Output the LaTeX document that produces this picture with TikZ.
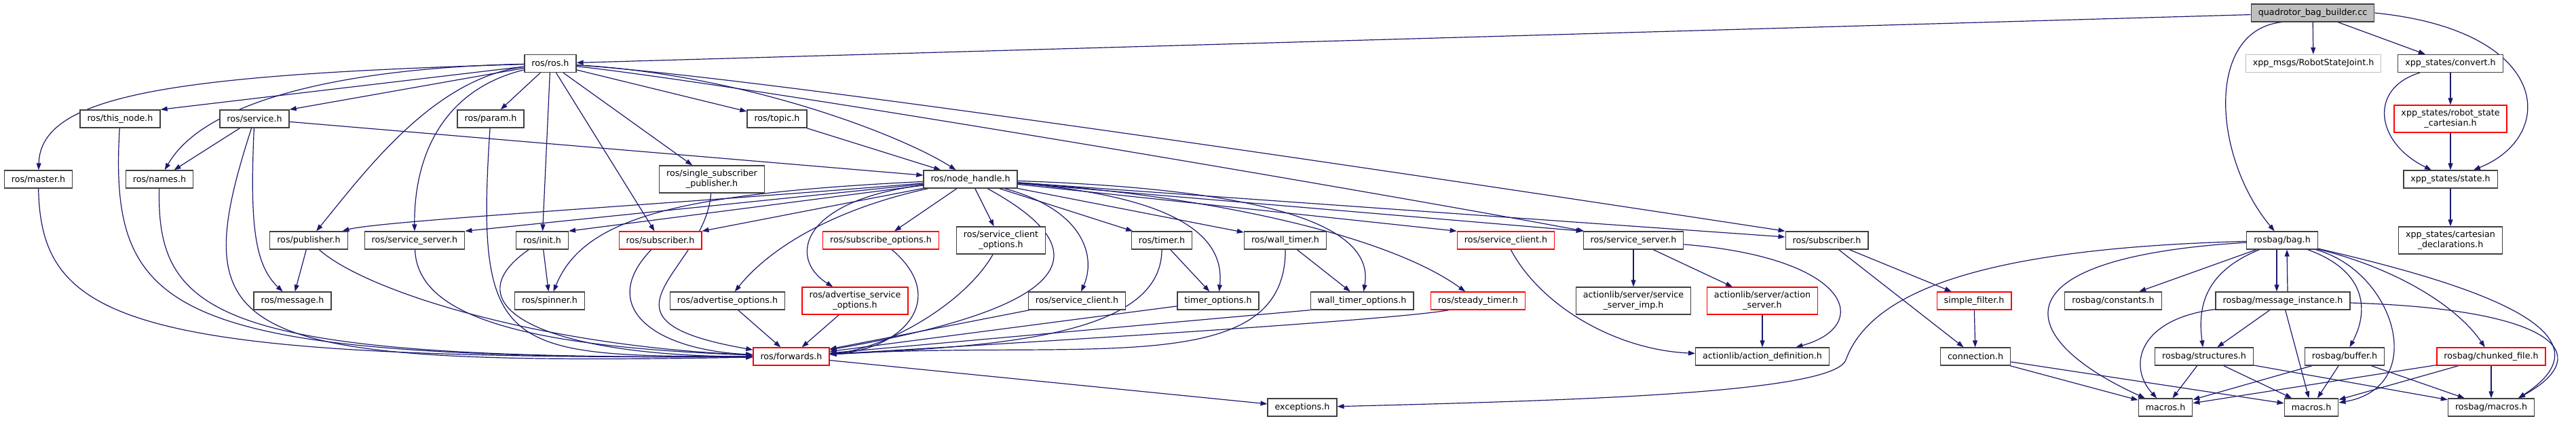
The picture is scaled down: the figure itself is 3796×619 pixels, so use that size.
\documentclass[tikz,border=0pt]{standalone}
\usepackage{fontspec}
\setmainfont{DejaVu Sans}
\usepackage{tikz}
\usetikzlibrary{arrows.meta, backgrounds}

\definecolor{edgeblue}{RGB}{25,25,112}
\definecolor{boxgray}{RGB}{64,64,64}
\definecolor{truncred}{RGB}{255,0,0}
\definecolor{lightgray}{RGB}{191,191,191}

\begin{document}
\begin{tikzpicture}[
    x=1pt, y=-1pt,
    file/.style={rectangle, draw=boxgray, line width=1.3pt, fill=white, minimum height=26pt, inner xsep=10.5pt, inner ysep=2pt, align=center, font=\fontsize{12.7}{15}\selectfont},
    trunc/.style={file, draw=truncred},
    ext/.style={file, draw=lightgray},
    mainfile/.style={file, fill=lightgray},
    twoline/.style={minimum height=40pt},
    arrow/.style={->, >={Triangle[length=10pt,width=7pt]}, draw=edgeblue, line width=1.2pt}
]
\useasboundingbox (0,0) rectangle (3796,619);

% Source file and first level
\node[mainfile] (quad) at (3408,19) {quadrotor\_bag\_builder.cc};
\node[file] (ros) at (811,93.5) {ros/ros.h};
\node[ext] (xppmsgs) at (3409,93.5) {xpp\_msgs/RobotStateJoint.h};
\node[file] (convert) at (3611,93.5) {xpp\_states/convert.h};

% ros headers
\node[file] (thisnode) at (177,175) {ros/this\_node.h};
\node[file] (service) at (375,175) {ros/service.h};
\node[file] (param) at (723,175) {ros/param.h};
\node[file] (topic) at (1145,175) {ros/topic.h};
\node[trunc, twoline] (rsc) at (3611,175) {xpp\_states/robot\_state\\\_cartesian.h};

\node[file] (master) at (56.5,264) {ros/master.h};
\node[file] (names) at (235,264) {ros/names.h};
\node[file, twoline] (ssp) at (1049,264) {ros/single\_subscriber\\\_publisher.h};
\node[file] (nh) at (1430,264) {ros/node\_handle.h};
\node[file] (state) at (3611,264) {xpp\_states/state.h};

\node[file] (publisher) at (455,354) {ros/publisher.h};
\node[file] (srvserver) at (611,354) {ros/service\_server.h};
\node[file] (init) at (799,354) {ros/init.h};
\node[trunc] (subscriber) at (973,354) {ros/subscriber.h};
\node[trunc] (subopts) at (1298,354) {ros/subscribe\_options.h};
\node[file, twoline] (scopts) at (1475,354) {ros/service\_client\\\_options.h};
\node[file] (timer) at (1712,354) {ros/timer.h};
\node[file] (walltimer) at (1894,354) {ros/wall\_timer.h};
\node[trunc] (srvclientred) at (2219,354) {ros/service\_client.h};
\node[file] (srvserverb) at (2407,354) {ros/service\_server.h};
\node[file] (subscriberb) at (2692,354) {ros/subscriber.h};
\node[file] (bag) at (3363,354) {rosbag/bag.h};
\node[file, twoline] (cartdecl) at (3611,354) {xpp\_states/cartesian\\\_declarations.h};

\node[file] (message) at (431,443) {ros/message.h};
\node[file] (spinner) at (810,443) {ros/spinner.h};
\node[file] (advopts) at (1072,443) {ros/advertise\_options.h};
\node[trunc, twoline] (advsrvopts) at (1260,443) {ros/advertise\_service\\\_options.h};
\node[file] (srvclient) at (1587,443) {ros/service\_client.h};
\node[file] (timeropts) at (1795,443) {timer\_options.h};
\node[file] (walltimeropts) at (2007,443) {wall\_timer\_options.h};
\node[trunc] (steadytimer) at (2178,443) {ros/steady\_timer.h};
\node[file, twoline] (ssimp) at (2407,443) {actionlib/server/service\\\_server\_imp.h};
\node[trunc, twoline] (actionserver) at (2597,443) {actionlib/server/action\\\_server.h};
\node[trunc] (simplefilter) at (2909,443) {simple\_filter.h};
\node[file] (constants) at (3114,443) {rosbag/constants.h};
\node[file] (msginst) at (3364,443) {rosbag/message\_instance.h};

\node[trunc] (forwards) at (1166,525) {ros/forwards.h};
\node[file] (actiondef) at (2597,525) {actionlib/action\_definition.h};
\node[file] (connection) at (2911,525) {connection.h};
\node[file] (structures) at (3248,525) {rosbag/structures.h};
\node[file] (buffer) at (3455,525) {rosbag/buffer.h};
\node[trunc] (chunked) at (3671,525) {rosbag/chunked\_file.h};

\node[file] (exceptions) at (1919,600) {exceptions.h};
\node[file] (macrosa) at (3191,600) {macros.h};
\node[file] (macrosb) at (3406,600) {macros.h};
\node[file] (rbmacros) at (3671,600) {rosbag/macros.h};

\begin{scope}[on background layer]
% From the source file
\draw[arrow] (quad) -- (ros);
\draw[arrow] ([xshift=-46pt]quad.south) .. controls (3250,45) and (3260,230) .. (bag);
\draw[arrow] (quad) -- (xppmsgs);
\draw[arrow] (quad) -- (convert);
\draw[arrow] (quad.east) .. controls (3760,45) and (3770,200) .. (state);
\draw[arrow] (convert) -- (rsc);
\draw[arrow] (convert) .. controls (3490,130) and (3500,210) .. (state);
\draw[arrow] (rsc) -- (state);
\draw[arrow] (state) -- (cartdecl);

% ros/ros.h
\draw[arrow] (ros) .. controls (250,110) and (60,140) .. (master);
\draw[arrow] (ros) -- (thisnode.north east);
\draw[arrow] (ros) -- (service.north east);
\draw[arrow] (ros) .. controls (500,100) and (300,150) .. (names);
\draw[arrow] (ros) .. controls (640,115) and (540,250) .. (publisher);
\draw[arrow] (ros) .. controls (660,130) and (610,220) .. (srvserver);
\draw[arrow] (ros) -- (param);
\draw[arrow] (ros) -- (init);
\draw[arrow] (ros) -- (subscriber);
\draw[arrow] (ros) -- (ssp);
\draw[arrow] (ros) -- (topic);
\draw[arrow] (ros) .. controls (1100,110) and (1330,200) .. (nh);
\draw[arrow] (ros) .. controls (1100,125) and (2039,285) .. (srvserverb);
\draw[arrow] (ros) .. controls (1150,115) and (2300,290) .. (subscriberb.north west);

% ros/service.h and the small ones
\draw[arrow] (service) -- (names);
\draw[arrow] (service) .. controls (368,330) and (375,390) .. (message);
\draw[arrow] (service) -- (nh);
\draw[arrow] (topic) -- (nh);
\draw[arrow] (publisher) -- (message);
\draw[arrow] (init) -- (spinner);
\draw[arrow] (timer) -- (timeropts);
\draw[arrow] (walltimer) -- (walltimeropts);

% Into ros/forwards.h
\draw[arrow] (master) .. controls (60,480) and (200,530) .. (forwards);
\draw[arrow] (thisnode) .. controls (160,470) and (250,530) .. (forwards);
\draw[arrow] (names) .. controls (230,470) and (330,530) .. (forwards);
\draw[arrow] (service) .. controls (270,500) and (330,540) .. (forwards);
\draw[arrow] (publisher) .. controls (540,430) and (800,510) .. (forwards);
\draw[arrow] (srvserver) .. controls (615,460) and (750,510) .. (forwards);
\draw[arrow] (param) .. controls (700,520) and (740,525) .. (forwards);
\draw[arrow] (init) .. controls (660,450) and (800,525) .. (forwards);
\draw[arrow] (subscriber) .. controls (880,450) and (960,515) .. (forwards);
\draw[arrow] (ssp) .. controls (1040,400) and (850,470) .. (forwards);
\draw[arrow] (advopts) -- (forwards);
\draw[arrow] (advsrvopts) -- (forwards);
\draw[arrow] (subopts) .. controls (1400,440) and (1330,515) .. (forwards);
\draw[arrow] (scopts) .. controls (1420,450) and (1300,515) .. (forwards);
\draw[arrow] (nh) .. controls (1680,400) and (1480,470) .. (forwards);
\draw[arrow] (srvclient) -- (forwards);
\draw[arrow] (timer) .. controls (1712,500) and (1450,510) .. (forwards);
\draw[arrow] (timeropts) -- (forwards);
\draw[arrow] (walltimer) .. controls (1895,560) and (1600,500) .. (forwards);
\draw[arrow] (walltimeropts.south west) -- (forwards);
\draw[arrow] ([xshift=-43pt]steadytimer.south) .. controls (2050,472) and (1500,505) .. (forwards);
\draw[arrow] (forwards) -- (exceptions);

% ros/node_handle.h
\draw[arrow] (nh) .. controls (1000,300) and (560,325) .. (publisher);
\draw[arrow] (nh) -- (srvserver.north east);
\draw[arrow] (nh) -- (init.north east);
\draw[arrow] (nh) .. controls (1000,285) and (860,320) .. (spinner);
\draw[arrow] (nh) -- (subscriber.north east);
\draw[arrow] (nh) .. controls (1220,310) and (1130,370) .. (advopts);
\draw[arrow] (nh) .. controls (1180,295) and (1160,380) .. (advsrvopts);
\draw[arrow] (nh) -- (subopts);
\draw[arrow] (nh) -- (scopts);
\draw[arrow] (nh) .. controls (1600,310) and (1615,380) .. (srvclient);
\draw[arrow] (nh) -- (timer);
\draw[arrow] (nh) .. controls (1740,290) and (1805,350) .. (timeropts);
\draw[arrow] (nh) -- (walltimer);
\draw[arrow] (nh) .. controls (1900,280) and (2025,340) .. (walltimeropts);
\draw[arrow] (nh) .. controls (1800,290) and (2050,350) .. (steadytimer);
\draw[arrow] (nh) -- (srvclientred.north west);
\draw[arrow] (nh) -- (srvserverb.north west);
\draw[arrow] (nh) -- ([yshift=5pt]subscriberb.west);

% actionlib
\draw[arrow] (srvclientred) .. controls (2270,450) and (2380,515) .. (actiondef);
\draw[arrow] (srvserverb) -- (ssimp);
\draw[arrow] (srvserverb) -- (actionserver);
\draw[arrow] (srvserverb) .. controls (2730,380) and (2760,480) .. (actiondef);
\draw[arrow] (actionserver) -- (actiondef);

% message filters
\draw[arrow] (subscriberb) -- (simplefilter);
\draw[arrow] (subscriberb) -- (connection);
\draw[arrow] (simplefilter) -- (connection);
\draw[arrow] (connection) -- (macrosa);
\draw[arrow] (connection) -- (macrosb);

% rosbag
\draw[arrow] (bag) .. controls (2950,365) and (2760,420) .. (2720,530) .. controls (2702,580) and (2300,590) .. (exceptions);
\draw[arrow] (bag) .. controls (2930,380) and (2970,500) .. (macrosa);
\draw[arrow] (bag) -- (constants);
\draw[arrow] (bag) .. controls (3250,400) and (3238,450) .. (structures);
\draw[arrow] ([xshift=-8pt]bag.south) -- ([xshift=-9pt]msginst.north);
\draw[arrow] ([xshift=7pt]msginst.north) -- ([xshift=7pt]bag.south);
\draw[arrow] (bag) .. controls (3490,400) and (3490,460) .. (buffer);
\draw[arrow] (bag) .. controls (3530,400) and (3580,570) .. (macrosb);
\draw[arrow] (bag) .. controls (3530,395) and (3620,450) .. (chunked);
\draw[arrow] (bag) .. controls (3650,420) and (3860,490) .. ([xshift=40pt]rbmacros.north);
\draw[arrow] (msginst) -- (structures);
\draw[arrow] (msginst) .. controls (3150,470) and (3135,540) .. (macrosa);
\draw[arrow] (msginst) -- (macrosb);
\draw[arrow] (msginst) .. controls (3760,455) and (3830,520) .. ([xshift=40pt]rbmacros.north);
\draw[arrow] (structures) -- (macrosa);
\draw[arrow] (structures) -- (macrosb);
\draw[arrow] (structures) -- (rbmacros);
\draw[arrow] (buffer) -- (macrosa);
\draw[arrow] (buffer) -- (macrosb);
\draw[arrow] (buffer) -- (rbmacros);
\draw[arrow] (chunked) -- (macrosa);
\draw[arrow] (chunked) -- (macrosb);
\draw[arrow] (chunked) -- (rbmacros);
\end{scope}

\end{tikzpicture}
\end{document}
